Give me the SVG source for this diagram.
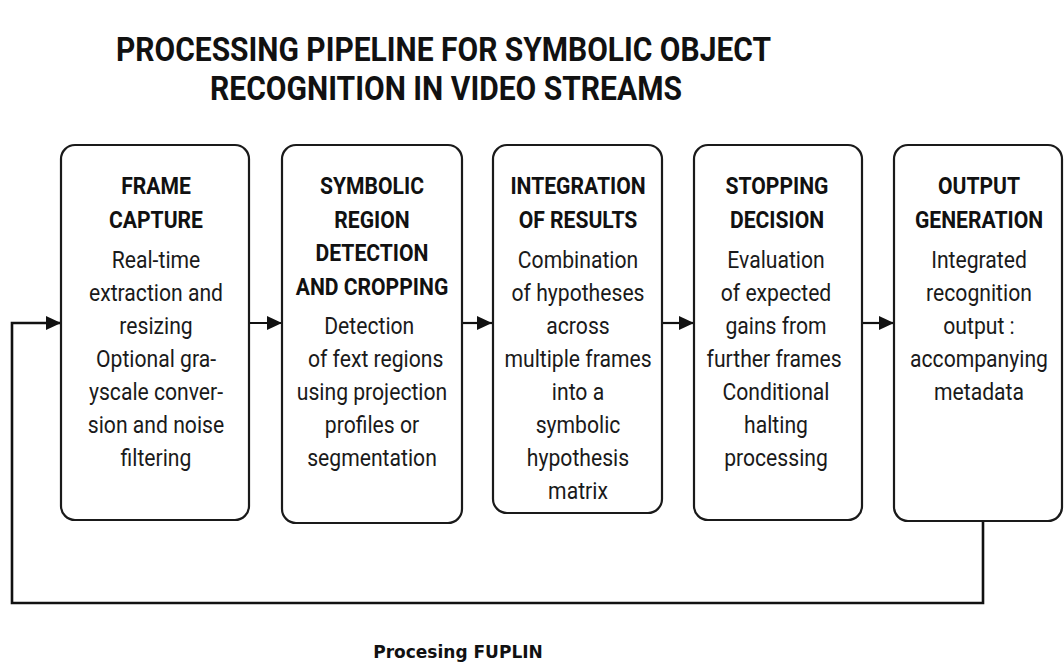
<svg xmlns="http://www.w3.org/2000/svg" width="1064" height="664" viewBox="0 0 1064 664">
<defs>
<marker id="ah" markerWidth="15" markerHeight="14" refX="15" refY="7" orient="auto" markerUnits="userSpaceOnUse">
<path d="M0,0 L15,7 L0,14 Z" fill="#111"/>
</marker>
<style>
.box{fill:#fff;stroke:#1a1a1a;stroke-width:2.2}
.hd{font-family:Roboto,"Liberation Sans",sans-serif;font-weight:bold;font-size:24px;fill:#111;text-anchor:middle}
.bd{font-family:Roboto,"Liberation Sans",sans-serif;font-size:23px;fill:#1a1a1a;text-anchor:middle}
.ttl{font-family:Roboto,"Liberation Sans",sans-serif;font-weight:bold;font-size:33px;fill:#111}
.conn{fill:none;stroke:#111;stroke-width:2.2}
.foot{font-family:"DejaVu Sans",Verdana,sans-serif;font-weight:bold;font-size:17px;fill:#111;text-anchor:middle}
</style>
</defs>
<rect width="1064" height="664" fill="#fff"/>
<g id="title">
<text class="ttl" x="116" y="61" textLength="655" lengthAdjust="spacingAndGlyphs">PROCESSING PIPELINE FOR SYMBOLIC OBJECT</text>
<text class="ttl" x="210" y="100" textLength="472" lengthAdjust="spacingAndGlyphs">RECOGNITION IN VIDEO STREAMS</text>
</g>
<g id="connectors">
<line class="conn" x1="249" y1="323" x2="282" y2="323" marker-end="url(#ah)"/>
<line class="conn" x1="462" y1="323" x2="492" y2="323" marker-end="url(#ah)"/>
<line class="conn" x1="662" y1="323" x2="694" y2="323" marker-end="url(#ah)"/>
<line class="conn" x1="862" y1="323" x2="894" y2="323" marker-end="url(#ah)"/>
<path class="conn" d="M983,521 V603 H12 V323 H61" marker-end="url(#ah)" style="stroke-width:2.6"/>
</g>
<g id="frame-capture">
<rect class="box" x="61" y="145" width="188" height="375" rx="14"/>
<g transform="translate(156 0) scale(0.88 1)">
<text class="hd" x="0" y="194">FRAME</text>
<text class="hd" x="0" y="228">CAPTURE</text>
</g>
<g transform="translate(156 0) scale(0.92 1)">
<text class="bd" x="0" y="268">Real-time</text>
<text class="bd" x="0" y="301">extraction and</text>
<text class="bd" x="0" y="334">resizing</text>
<text class="bd" x="0" y="367">Optional gra-</text>
<text class="bd" x="0" y="400">yscale conver-</text>
<text class="bd" x="0" y="433">sion and noise</text>
<text class="bd" x="0" y="466">filtering</text>
</g>
</g>
<g id="symbolic-region">
<rect class="box" x="282" y="145" width="180" height="378" rx="14"/>
<g transform="translate(372 0) scale(0.88 1)">
<text class="hd" x="0" y="194">SYMBOLIC</text>
<text class="hd" x="0" y="228">REGION</text>
<text class="hd" x="0" y="261">DETECTION</text>
<text class="hd" x="0" y="295">AND CROPPING</text>
</g>
<g transform="translate(372 0) scale(0.92 1)">
<text class="bd" x="-3" y="334">Detection</text>
<text class="bd" x="4" y="367">of fext regions</text>
<text class="bd" x="0" y="400">using projection</text>
<text class="bd" x="0" y="433">profiles or</text>
<text class="bd" x="0" y="466">segmentation</text>
</g>
</g>
<g id="integration">
<rect class="box" x="493" y="145" width="169" height="368" rx="14"/>
<g transform="translate(578 0) scale(0.88 1)">
<text class="hd" x="0" y="194">INTEGRATION</text>
<text class="hd" x="0" y="228">OF RESULTS</text>
</g>
<g transform="translate(578 0) scale(0.92 1)">
<text class="bd" x="0" y="268">Combination</text>
<text class="bd" x="0" y="301">of hypotheses</text>
<text class="bd" x="0" y="334">across</text>
<text class="bd" x="0" y="367">multiple frames</text>
<text class="bd" x="0" y="400">into a</text>
<text class="bd" x="0" y="433">symbolic</text>
<text class="bd" x="0" y="466">hypothesis</text>
<text class="bd" x="0" y="499">matrix</text>
</g>
</g>
<g id="stopping">
<rect class="box" x="694" y="145" width="168" height="375" rx="14"/>
<g transform="translate(777 0) scale(0.88 1)">
<text class="hd" x="0" y="194">STOPPING</text>
<text class="hd" x="0" y="228">DECISION</text>
</g>
<g transform="translate(776 0) scale(0.92 1)">
<text class="bd" x="0" y="268">Evaluation</text>
<text class="bd" x="0" y="301">of expected</text>
<text class="bd" x="0" y="334">gains from</text>
<text class="bd" x="-2" y="367">further frames</text>
<text class="bd" x="0" y="400">Conditional</text>
<text class="bd" x="0" y="433">halting</text>
<text class="bd" x="0" y="466">processing</text>
</g>
</g>
<g id="output">
<rect class="box" x="894" y="145" width="168" height="376" rx="14"/>
<g transform="translate(979 0) scale(0.88 1)">
<text class="hd" x="0" y="194">OUTPUT</text>
<text class="hd" x="0" y="228">GENERATION</text>
</g>
<g transform="translate(979 0) scale(0.92 1)">
<text class="bd" x="0" y="268">Integrated</text>
<text class="bd" x="0" y="301">recognition</text>
<text class="bd" x="0" y="334">output :</text>
<text class="bd" x="0" y="367">accompanying</text>
<text class="bd" x="0" y="400">metadata</text>
</g>
</g>
<text class="foot" x="458" y="658">Procesing FUPLIN</text>
</svg>
